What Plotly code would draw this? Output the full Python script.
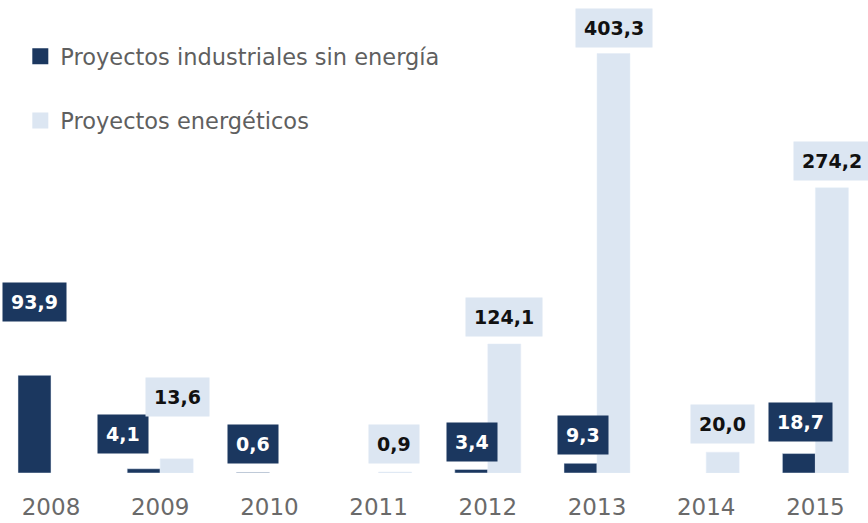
import plotly.graph_objects as go

years = ["2008", "2009", "2010", "2011", "2012", "2013", "2014", "2015"]
industriales = [93.9, 4.1, 0.6, None, 3.4, 9.3, None, 18.7]
energeticos = [None, 13.6, None, 0.9, 124.1, 403.3, 20.0, 274.2]

name_ind = "Proyectos industriales sin energía"
name_ene = "Proyectos energéticos"

# label placement tweaks (pixels): vertical gap above bar, extra horizontal nudge
gap_ind = [53, 15, 8, 8, 7, 8, 8, 12]
nudge_ind = [0, -21, 0, 0, 1, 2, 0, 2]
gap_ene = [7, 42, 8, 8, 7, 6, 8, 7]
nudge_ene = [0, 1, 0, -1, 0, 0, 0, 0]

DARK = "#1b375f"
LIGHT = "#dce6f2"

W, H = 868, 523
PLOT_H = 473
PX_PER_UNIT = 1.04
CAT_W = 109.2
FIRST_C = 51

fig = go.Figure()
fig.add_trace(go.Bar(x=years, y=industriales, name=name_ind, marker_color=DARK,
                     showlegend=False, legendgroup="a"))
fig.add_trace(go.Bar(x=years, y=energeticos, name=name_ene, marker_color=LIGHT,
                     showlegend=False, legendgroup="b"))
# legend entries with larger squares
fig.add_trace(go.Scatter(x=[None], y=[None], mode="markers", name=name_ind,
                         marker=dict(symbol="square", size=18, color=DARK),
                         legendgroup="a"))
fig.add_trace(go.Scatter(x=[None], y=[None], mode="markers", name=name_ene,
                         marker=dict(symbol="square", size=18, color=LIGHT),
                         legendgroup="b"))

def fmt(v):
    return f"{v:.1f}".replace(".", ",")

half = 16.5
for i, yr in enumerate(years):
    v = industriales[i]
    if v:
        fig.add_annotation(x=i, y=v, xref="x", yref="y", text=fmt(v),
                           showarrow=False, yanchor="bottom", xanchor="center",
                           xshift=-half + nudge_ind[i], yshift=gap_ind[i],
                           bgcolor=DARK, borderpad=8,
                           font=dict(family="DejaVu Sans", size=19, color="white", weight="bold"))
    v = energeticos[i]
    if v:
        fig.add_annotation(x=i, y=v, xref="x", yref="y", text=fmt(v),
                           showarrow=False, yanchor="bottom", xanchor="center",
                           xshift=half + nudge_ene[i], yshift=gap_ene[i],
                           bgcolor=LIGHT, borderpad=8,
                           font=dict(family="DejaVu Sans", size=19, color="#111111", weight="bold"))

x0 = -FIRST_C / CAT_W
x1 = x0 + W / CAT_W

fig.update_layout(
    width=W, height=H,
    margin=dict(l=0, r=0, t=0, b=H - PLOT_H),
    paper_bgcolor="white", plot_bgcolor="white",
    barmode="group", bargap=1 - 66 / CAT_W, bargroupgap=0,
    font=dict(family="DejaVu Sans", color="#666666"),
    legend=dict(x=0.0234, y=0.926, xanchor="left", yanchor="top",
                font=dict(size=22.5, color="#5f5f5f"),
                traceorder="grouped", tracegroupgap=32,
                bgcolor="rgba(0,0,0,0)"),
    xaxis=dict(type="category", range=[x0, x1], showgrid=False, zeroline=False,
               showline=False, ticks="outside", ticklen=13, automargin=False,
               tickcolor="rgba(0,0,0,0)",
               tickfont=dict(size=23, color="#6a6a6a")),
    yaxis=dict(range=[0, PLOT_H / PX_PER_UNIT], visible=False, automargin=False),
)

fig.write_html("out.html", config={"displayModeBar": False},
               post_script="document.body.style.margin='0px';document.body.style.overflow='hidden';")
